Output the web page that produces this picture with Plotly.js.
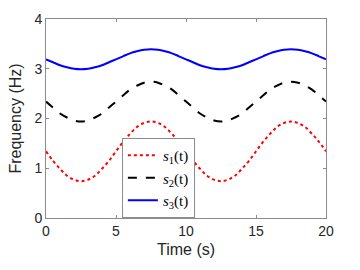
<!DOCTYPE html>
<html><head><meta charset="utf-8">
<script src="https://cdn.plot.ly/plotly-3.0.1.min.js"></script>
<style>html,body{margin:0;padding:0;background:#fff;}#c{width:360px;height:270px;}</style>
</head><body><div id="c"></div>
<script>
var time = [0,0.5,1,1.5,2,2.5,3,3.5,4,4.5,5,5.5,6,6.5,7,7.5,8,8.5,9,9.5,10,10.5,11,11.5,12,12.5,13,13.5,14,14.5,15,15.5,16,16.5,17,17.5,18,18.5,19,19.5,20];
var s1 = [1.34,1.15,0.99,0.85,0.77,0.74,0.77,0.85,0.99,1.15,1.34,1.53,1.69,1.83,1.91,1.94,1.91,1.83,1.69,1.53,1.34,1.15,0.99,0.85,0.77,0.74,0.77,0.85,0.99,1.15,1.34,1.53,1.69,1.83,1.91,1.94,1.91,1.83,1.69,1.53,1.34];
var s2 = [2.34,2.22,2.10,2.02,1.96,1.94,1.96,2.02,2.10,2.22,2.34,2.46,2.58,2.66,2.72,2.74,2.72,2.66,2.58,2.46,2.34,2.22,2.10,2.02,1.96,1.94,1.96,2.02,2.10,2.22,2.34,2.46,2.58,2.66,2.72,2.74,2.72,2.66,2.58,2.46,2.34];
var s3 = [3.19,3.13,3.07,3.03,3.00,2.99,3.00,3.03,3.07,3.13,3.19,3.25,3.31,3.35,3.38,3.39,3.38,3.35,3.31,3.25,3.19,3.13,3.07,3.03,3.00,2.99,3.00,3.03,3.07,3.13,3.19,3.25,3.31,3.35,3.38,3.39,3.38,3.35,3.31,3.25,3.19];
var seriesNames = ['<i>s</i><sub>1</sub>(t)','<i>s</i><sub>2</sub>(t)','<i>s</i><sub>3</sub>(t)'];
var xTicks = [0,5,10,15,20];
var yTicks = [0,1,2,3,4];

var traces = [
  {x: time, y: s1, name: seriesNames[0], mode: 'lines', line: {color: '#ff0000', width: 2, dash: 'dot', shape: 'spline'}},
  {x: time, y: s2, name: seriesNames[1], mode: 'lines', line: {color: '#000000', width: 2, dash: 'dash', shape: 'spline'}},
  {x: time, y: s3, name: seriesNames[2], mode: 'lines', line: {color: '#0000ff', width: 2, dash: 'solid', shape: 'spline'}}
];
var axisCommon = {
  showgrid: false, zeroline: false, showline: true, mirror: 'ticks',
  linecolor: '#8c8c8c', linewidth: 1, ticks: 'inside', ticklen: 3, tickcolor: '#8c8c8c',
  tickfont: {family: 'Liberation Sans, Arial, sans-serif', size: 14, color: '#262626'}
};
var layout = {
  width: 360, height: 270,
  margin: {l: 46, r: 34, t: 19, b: 52},
  paper_bgcolor: '#fff', plot_bgcolor: '#fff',
  showlegend: true,
  legend: {x: 0.271, y: 0, xanchor: 'left', yanchor: 'bottom', bgcolor: '#fff',
    bordercolor: '#8c8c8c', borderwidth: 1,
    font: {family: 'Liberation Serif, Times New Roman, serif', size: 15, color: '#000'},
    tracegroupgap: 0, itemwidth: 30},
  xaxis: Object.assign({}, axisCommon, {range: [0, 20], tickvals: xTicks,
    title: {text: 'Time (s)', font: {family: 'Liberation Sans, Arial, sans-serif', size: 16, color: '#262626'}, standoff: 6}}),
  yaxis: Object.assign({}, axisCommon, {range: [0, 4], tickvals: yTicks,
    title: {text: 'Frequency (Hz)', font: {family: 'Liberation Sans, Arial, sans-serif', size: 16, color: '#262626'}, standoff: 8}})
};
Plotly.newPlot('c', traces, layout, {staticPlot: true, displayModeBar: false});
</script></body></html>
